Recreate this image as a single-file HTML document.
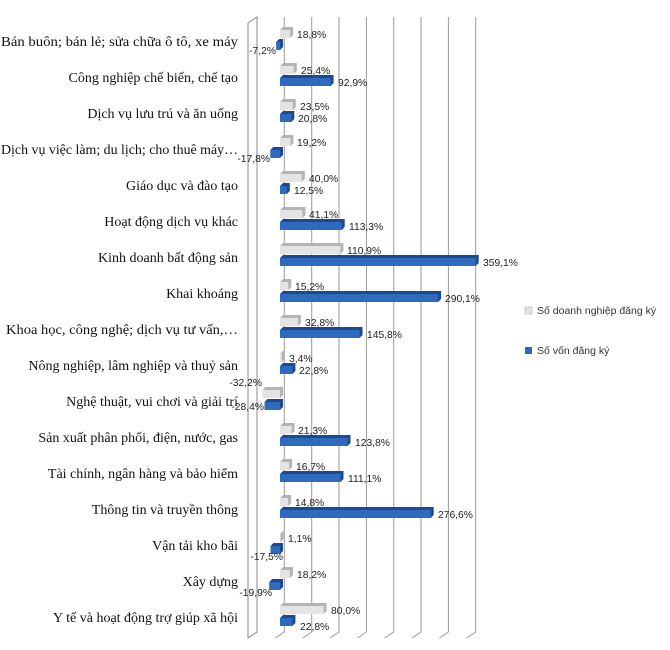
<!DOCTYPE html>
<html><head><meta charset="utf-8"><style>
body{margin:0;background:#fff}
svg{display:block}
.c{font-family:"Liberation Serif",serif;font-size:14px;fill:#111;text-anchor:end}
.v{font-family:"Liberation Sans",sans-serif;font-size:10.3px;fill:#222}
.n{text-anchor:end}
.l{font-family:"Liberation Sans",sans-serif;font-size:10.5px;fill:#333}
.gs{fill:#b4b4b4}.gf{fill:#e4e4e4}.bs{fill:#1d4a8a}.bf{fill:#2e6bbf}
</style></head><body>
<svg width="670" height="650" viewBox="0 0 670 650">
<g stroke="#9a9a9a" stroke-width="1" fill="none">
<polygon points="248,23 257,17 257,632 248,638" stroke="#888"/>
<path d="M284.3,17V632L275.3,638M311.7,17V632L302.7,638M339,17V632L330,638M366.4,17V632L357.4,638M393.7,17V632L384.7,638M421,17V632L412,638M448.4,17V632L439.4,638M475.7,17V632L466.7,638"/>
</g>
<g>
<polygon class="gs" points="280,30 283,27 293.2,27 293.2,35 290.2,38"/><rect class="gf" x="280" y="30" width="10.2" height="8"/>
<polygon class="bs" points="276.1,42 279.1,39 283,39 283,47 280,50"/><rect class="bf" x="276.1" y="42" width="3.9" height="8"/>
<polygon class="gs" points="280,66 283,63 296.8,63 296.8,71 293.8,74"/><rect class="gf" x="280" y="66" width="13.8" height="8"/>
<polygon class="bs" points="280,78 283,75 333.6,75 333.6,83 330.6,86"/><rect class="bf" x="280" y="78" width="50.6" height="8"/>
<polygon class="gs" points="280,102 283,99 295.8,99 295.8,107 292.8,110"/><rect class="gf" x="280" y="102" width="12.8" height="8"/>
<polygon class="bs" points="280,114 283,111 294.3,111 294.3,119 291.3,122"/><rect class="bf" x="280" y="114" width="11.3" height="8"/>
<polygon class="gs" points="280,138 283,135 293.5,135 293.5,143 290.5,146"/><rect class="gf" x="280" y="138" width="10.5" height="8"/>
<polygon class="bs" points="270.3,150 273.3,147 283,147 283,155 280,158"/><rect class="bf" x="270.3" y="150" width="9.7" height="8"/>
<polygon class="gs" points="280,174 283,171 304.8,171 304.8,179 301.8,182"/><rect class="gf" x="280" y="174" width="21.8" height="8"/>
<polygon class="bs" points="280,186 283,183 289.8,183 289.8,191 286.8,194"/><rect class="bf" x="280" y="186" width="6.8" height="8"/>
<polygon class="gs" points="280,210 283,207 305.4,207 305.4,215 302.4,218"/><rect class="gf" x="280" y="210" width="22.4" height="8"/>
<polygon class="bs" points="280,222 283,219 344.7,219 344.7,227 341.7,230"/><rect class="bf" x="280" y="222" width="61.7" height="8"/>
<polygon class="gs" points="280,246 283,243 343.4,243 343.4,251 340.4,254"/><rect class="gf" x="280" y="246" width="60.4" height="8"/>
<polygon class="bs" points="280,258 283,255 478.7,255 478.7,263 475.7,266"/><rect class="bf" x="280" y="258" width="195.7" height="8"/>
<polygon class="gs" points="280,282 283,279 291.3,279 291.3,287 288.3,290"/><rect class="gf" x="280" y="282" width="8.3" height="8"/>
<polygon class="bs" points="280,294 283,291 441.1,291 441.1,299 438.1,302"/><rect class="bf" x="280" y="294" width="158.1" height="8"/>
<polygon class="gs" points="280,318 283,315 300.9,315 300.9,323 297.9,326"/><rect class="gf" x="280" y="318" width="17.9" height="8"/>
<polygon class="bs" points="280,330 283,327 362.5,327 362.5,335 359.5,338"/><rect class="bf" x="280" y="330" width="79.5" height="8"/>
<polygon class="gs" points="280,354 283,351 284.9,351 284.9,359 281.9,362"/><rect class="gf" x="280" y="354" width="1.9" height="8"/>
<polygon class="bs" points="280,366 283,363 295.4,363 295.4,371 292.4,374"/><rect class="bf" x="280" y="366" width="12.4" height="8"/>
<polygon class="gs" points="262.5,390 265.5,387 283,387 283,395 280,398"/><rect class="gf" x="262.5" y="390" width="17.5" height="8"/>
<polygon class="bs" points="264.5,402 267.5,399 283,399 283,407 280,410"/><rect class="bf" x="264.5" y="402" width="15.5" height="8"/>
<polygon class="gs" points="280,426 283,423 294.6,423 294.6,431 291.6,434"/><rect class="gf" x="280" y="426" width="11.6" height="8"/>
<polygon class="bs" points="280,438 283,435 350.5,435 350.5,443 347.5,446"/><rect class="bf" x="280" y="438" width="67.5" height="8"/>
<polygon class="gs" points="280,462 283,459 292.1,459 292.1,467 289.1,470"/><rect class="gf" x="280" y="462" width="9.1" height="8"/>
<polygon class="bs" points="280,474 283,471 343.5,471 343.5,479 340.5,482"/><rect class="bf" x="280" y="474" width="60.5" height="8"/>
<polygon class="gs" points="280,498 283,495 291.1,495 291.1,503 288.1,506"/><rect class="gf" x="280" y="498" width="8.1" height="8"/>
<polygon class="bs" points="280,510 283,507 433.7,507 433.7,515 430.7,518"/><rect class="bf" x="280" y="510" width="150.7" height="8"/>
<polygon class="gs" points="280,534 283,531 283.6,531 283.6,539 280.6,542"/><rect class="gf" x="280" y="534" width="0.6" height="8"/>
<polygon class="bs" points="270.5,546 273.5,543 283,543 283,551 280,554"/><rect class="bf" x="270.5" y="546" width="9.5" height="8"/>
<polygon class="gs" points="280,570 283,567 292.9,567 292.9,575 289.9,578"/><rect class="gf" x="280" y="570" width="9.9" height="8"/>
<polygon class="bs" points="269.2,582 272.2,579 283,579 283,587 280,590"/><rect class="bf" x="269.2" y="582" width="10.8" height="8"/>
<polygon class="gs" points="280,606 283,603 326.6,603 326.6,611 323.6,614"/><rect class="gf" x="280" y="606" width="43.6" height="8"/>
<polygon class="bs" points="280,618 283,615 295.4,615 295.4,623 292.4,626"/><rect class="bf" x="280" y="618" width="12.4" height="8"/>
</g>
<g class="c">
<text x="238" y="46" textLength="237" lengthAdjust="spacingAndGlyphs">Bán buôn; bán lẻ; sửa chữa ô tô, xe máy</text>
<text x="238" y="82">Công nghiệp chế biến, chế tạo</text>
<text x="238" y="118">Dịch vụ lưu trú và ăn uống</text>
<text x="238" y="154" textLength="237" lengthAdjust="spacingAndGlyphs">Dịch vụ việc làm; du lịch; cho thuê máy…</text>
<text x="238" y="190">Giáo dục và đào tạo</text>
<text x="238" y="226">Hoạt động dịch vụ khác</text>
<text x="238" y="262">Kinh doanh bất động sản</text>
<text x="238" y="298">Khai khoáng</text>
<text x="238" y="334" textLength="232" lengthAdjust="spacingAndGlyphs">Khoa học, công nghệ; dịch vụ tư vấn,…</text>
<text x="238" y="370">Nông nghiệp, lâm nghiệp và thuỷ sản</text>
<text x="238" y="406">Nghệ thuật, vui chơi và giải trí</text>
<text x="238" y="442">Sản xuất phân phối, điện, nước, gas</text>
<text x="238" y="478">Tài chính, ngân hàng và bảo hiểm</text>
<text x="238" y="514">Thông tin và truyền thông</text>
<text x="238" y="550">Vận tải kho bãi</text>
<text x="238" y="586">Xây dựng</text>
<text x="238" y="622">Y tế và hoạt động trợ giúp xã hội</text>
</g>
<g class="v">
<text x="297" y="38">18,8%</text><text class="n" x="276" y="54">-7,2%</text>
<text x="301" y="74">25,4%</text><text x="338" y="86">92,9%</text>
<text x="300" y="110">23,5%</text><text x="298" y="122">20,8%</text>
<text x="297" y="146">19,2%</text><text class="n" x="270" y="162">-17,8%</text>
<text x="309" y="182">40,0%</text><text x="294" y="194">12,5%</text>
<text x="309" y="218">41,1%</text><text x="349" y="230">113,3%</text>
<text x="347" y="254">110,9%</text><text x="483" y="266">359,1%</text>
<text x="295" y="290">15,2%</text><text x="445" y="302">290,1%</text>
<text x="305" y="326">32,8%</text><text x="367" y="338">145,8%</text>
<text x="289" y="362">3,4%</text><text x="299" y="374">22,8%</text>
<text class="n" x="262" y="386">-32,2%</text><text class="n" x="264" y="410">-28,4%</text>
<text x="298" y="434">21,3%</text><text x="355" y="446">123,8%</text>
<text x="296" y="470">16,7%</text><text x="348" y="482">111,1%</text>
<text x="295" y="506">14,8%</text><text x="438" y="518">276,6%</text>
<text x="288" y="542">1,1%</text><text class="n" x="283" y="560">-17,5%</text>
<text x="297" y="578">18,2%</text><text class="n" x="272" y="596">-19,9%</text>
<text x="331" y="614">80,0%</text><text x="300" y="630">22,8%</text>
</g>
<rect x="525" y="307" width="7" height="7" fill="#e2e2e2" stroke="#aaa" stroke-width=".5"/>
<text class="l" x="537" y="314">Số doanh nghiệp đăng ký</text>
<rect x="525" y="347" width="7" height="7" fill="#2e6bbf"/>
<text class="l" x="537" y="354">Số vốn đăng ký</text>
</svg>
</body></html>
